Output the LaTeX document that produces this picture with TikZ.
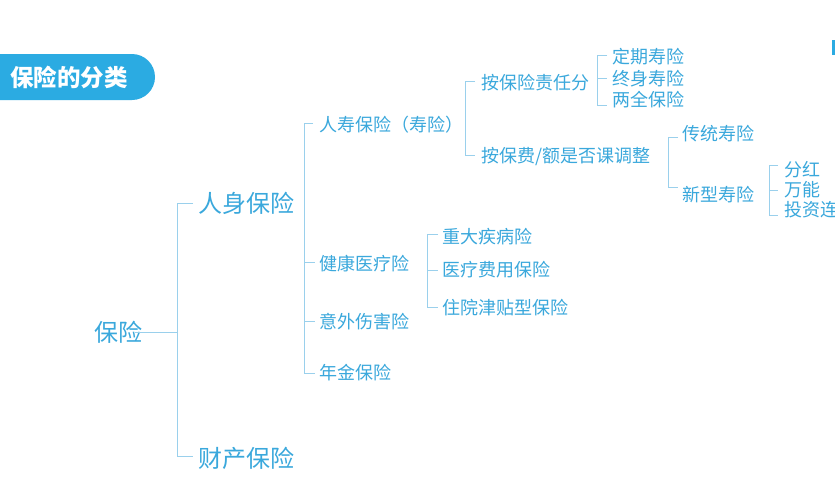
\documentclass[tikz,border=0pt]{standalone}
\usepackage{fontspec}
\setmainfont{Noto Sans CJK SC}
\definecolor{txt}{HTML}{3AA8DC}
\definecolor{ln}{HTML}{9AD0EC}
\definecolor{pill}{HTML}{2BABE2}
\tikzset{
  lab/.style={text=txt, inner sep=0pt, anchor=west, font=\fontsize{18}{18}\selectfont},
  big/.style={lab, font=\fontsize{24}{24}\selectfont},
  br/.style={draw=ln, line width=1pt},
}
\begin{document}
\begin{tikzpicture}[x=1pt,y=-1pt]
\useasboundingbox (0,0) rectangle (835,496);
\clip (0,0) rectangle (835,496);
\fill[white] (0,0) rectangle (835,496);
% title
\fill[pill, rounded corners=23pt] (-40,54) rectangle (155,100);
\node[anchor=west, inner sep=0pt, text=white, font=\fontsize{23.5}{23.5}\selectfont\bfseries] (title) at (10,77) {保险的分类};
\fill[pill] (832,40) rectangle (836,55);
% nodes
\node[big] (root) at (94,332) {保险};
\node[big] (rs) at (198,203) {人身保险};
\node[big] (cc) at (198,458) {财产保险};
\node[lab] (sx) at (319,125) {人寿保险（寿险）};
\node[lab] (jk) at (319,264) {健康医疗险};
\node[lab] (yw) at (319,322) {意外伤害险};
\node[lab] (nj) at (319,373) {年金保险};
\node[lab] (zd) at (442,237) {重大疾病险};
\node[lab] (yl) at (442,270) {医疗费用保险};
\node[lab] (zy) at (442,308) {住院津贴型保险};
\node[lab] (zr) at (481,83) {按保险责任分};
\node[lab] (bf) at (481,157) {按保费/额是否课调整};
\node[lab] (dq) at (612,57) {定期寿险};
\node[lab] (zs) at (612,79) {终身寿险};
\node[lab] (lq) at (612,100) {两全保险};
\node[lab] (ct) at (682,134) {传统寿险};
\node[lab] (xx) at (682,195) {新型寿险};
\node[lab] (fh) at (784,170) {分红};
\node[lab] (wn) at (784,190) {万能};
\node[lab] (tz) at (784,210) {投资连结};
% connectors
\coordinate (s1) at (177,332);
\draw[br] ([xshift=-7pt]root.east) -- (s1);
\draw[br] (193,203) -- (177,203) -- (177,456) -- (193,456);
\draw[br] (313,123) -- (304,123) -- (304,373) -- (315,373);
\draw[br] (304,262) -- (315,262);
\draw[br] (304,321) -- (315,321);
\draw[br] (438,234) -- (427,234) -- (427,307) -- (438,307);
\draw[br] (427,270) -- (438,270);
\draw[br] (475,81) -- (465,81) -- (465,155) -- (475,155);
\draw[br] (607,55) -- (597,55) -- (597,105) -- (607,105);
\draw[br] (597,78) -- (607,78);
\draw[br] (678,137) -- (668,137) -- (668,187) -- (678,187);
\draw[br] (778,165) -- (769,165) -- (769,215) -- (778,215);
\draw[br] (769,190) -- (778,190);
\end{tikzpicture}
\end{document}
